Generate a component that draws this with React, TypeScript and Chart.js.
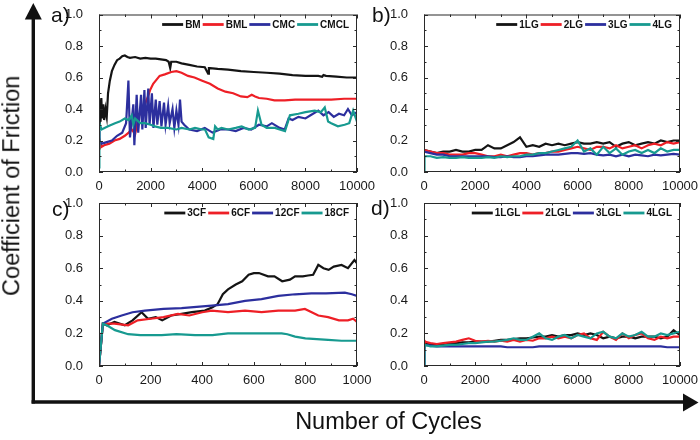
import React, { useEffect, useRef } from "react";
import { Chart, registerables } from "chart.js";

Chart.register(...registerables);

const SERIES_COLORS = ["#141414", "#ee1f26", "#2c2f9e", "#179a90"];
const FONT = '"Liberation Sans", Arial, Helvetica, sans-serif';

// ---------- Panel a ----------
const aNames = ["BM", "BML", "CMC", "CMCL"];
const aBMx = [0, 30, 60, 90, 120, 160, 200, 250, 300, 350, 420, 500, 600, 700, 800, 900, 1000, 1100, 1200, 1400, 1600, 1800, 2000, 2200, 2400, 2600, 2700, 2760, 2800, 3000, 3200, 3500, 3800, 4100, 4230, 4260, 4300, 4600, 5000, 5500, 6000, 6500, 7000, 7500, 8000, 8500, 8650, 8700, 8800, 9200, 9600, 10000];
const aBMy = [0.30, 0.46, 0.32, 0.47, 0.34, 0.43, 0.33, 0.40, 0.35, 0.50, 0.58, 0.64, 0.68, 0.71, 0.72, 0.735, 0.74, 0.73, 0.725, 0.73, 0.72, 0.725, 0.72, 0.72, 0.715, 0.71, 0.70, 0.66, 0.70, 0.70, 0.69, 0.68, 0.67, 0.665, 0.625, 0.66, 0.66, 0.655, 0.65, 0.64, 0.635, 0.63, 0.625, 0.615, 0.61, 0.61, 0.605, 0.615, 0.61, 0.605, 0.60, 0.60];
const aBMLx = [0, 30, 100, 200, 400, 600, 800, 1000, 1150, 1270, 1400, 1520, 1650, 1780, 1900, 1980, 2100, 2200, 2350, 2550, 2800, 3000, 3200, 3450, 3700, 4000, 4300, 4600, 4900, 5200, 5500, 5750, 5920, 6050, 6200, 6500, 6800, 7200, 7600, 8000, 8500, 9000, 9500, 10000];
const aBMLy = [0.15, 0.2, 0.16, 0.17, 0.18, 0.2, 0.21, 0.23, 0.25, 0.27, 0.24, 0.34, 0.4, 0.43, 0.48, 0.52, 0.56, 0.58, 0.61, 0.62, 0.635, 0.64, 0.63, 0.61, 0.6, 0.58, 0.56, 0.53, 0.51, 0.5, 0.48, 0.475, 0.49, 0.48, 0.47, 0.465, 0.455, 0.455, 0.46, 0.46, 0.46, 0.46, 0.465, 0.465];
const aCMCx = [0, 20, 100, 300, 500, 700, 900, 1050, 1140, 1200, 1330, 1370, 1460, 1520, 1630, 1680, 1760, 1810, 1910, 1960, 2050, 2110, 2200, 2260, 2350, 2420, 2520, 2580, 2680, 2740, 2850, 2920, 3000, 3080, 3140, 3200, 3300, 3500, 3800, 4100, 4400, 4700, 5000, 5300, 5600, 5900, 6200, 6500, 6700, 7000, 7200, 7350, 7500, 7730, 8000, 8200, 8500, 8700, 8900, 9100, 9300, 9500, 9650, 9800, 10000];
const aCMCy = [0.26, 0.2, 0.18, 0.19, 0.2, 0.23, 0.25, 0.31, 0.58, 0.22, 0.43, 0.17, 0.49, 0.25, 0.49, 0.27, 0.52, 0.28, 0.53, 0.3, 0.5, 0.28, 0.46, 0.3, 0.45, 0.29, 0.44, 0.3, 0.42, 0.31, 0.4, 0.28, 0.39, 0.3, 0.46, 0.32, 0.3, 0.27, 0.26, 0.28, 0.25, 0.27, 0.27, 0.26, 0.28, 0.27, 0.3, 0.29, 0.31, 0.28, 0.27, 0.34, 0.33, 0.35, 0.34, 0.36, 0.39, 0.36, 0.38, 0.35, 0.37, 0.36, 0.4, 0.36, 0.38];
const aCMCLx = [0, 15, 100, 350, 620, 800, 1000, 1150, 1270, 1330, 1400, 1600, 1780, 2000, 2170, 2400, 2680, 3000, 3200, 3500, 3720, 4000, 4110, 4250, 4430, 4500, 4600, 4750, 5000, 5300, 5530, 5800, 6050, 6160, 6300, 6500, 6820, 7000, 7210, 7400, 7730, 8000, 8360, 8600, 8750, 8880, 9000, 9260, 9520, 9700, 9850, 10000];
const aCMCLy = [0.03, 0.31, 0.27, 0.29, 0.31, 0.32, 0.34, 0.33, 0.36, 0.3, 0.34, 0.31, 0.31, 0.3, 0.29, 0.28, 0.28, 0.27, 0.28, 0.27, 0.28, 0.27, 0.27, 0.22, 0.21, 0.29, 0.27, 0.28, 0.27, 0.28, 0.29, 0.27, 0.28, 0.39, 0.3, 0.28, 0.28, 0.27, 0.26, 0.36, 0.37, 0.38, 0.39, 0.38, 0.41, 0.32, 0.31, 0.29, 0.3, 0.31, 0.39, 0.32];

// ---------- Panel b ----------
const bNames = ["1LG", "2LG", "3LG", "4LG"];
const bX = [0, 20, 250, 500, 750, 1000, 1250, 1500, 1750, 2000, 2250, 2500, 2750, 3000, 3250, 3500, 3750, 4000, 4250, 4500, 4750, 5000, 5250, 5500, 5750, 6000, 6250, 6500, 6750, 7000, 7250, 7500, 7750, 8000, 8250, 8500, 8750, 9000, 9250, 9500, 9750, 10000];
const b1LG = [0.13, 0.14, 0.13, 0.12, 0.13, 0.13, 0.14, 0.13, 0.13, 0.14, 0.14, 0.17, 0.15, 0.15, 0.17, 0.19, 0.22, 0.16, 0.17, 0.16, 0.18, 0.17, 0.18, 0.17, 0.18, 0.19, 0.18, 0.18, 0.19, 0.18, 0.19, 0.16, 0.18, 0.19, 0.17, 0.18, 0.19, 0.18, 0.20, 0.19, 0.20, 0.20];
const b2LG = [0.14, 0.14, 0.13, 0.12, 0.12, 0.11, 0.11, 0.11, 0.12, 0.12, 0.11, 0.1, 0.1, 0.11, 0.1, 0.11, 0.12, 0.12, 0.11, 0.12, 0.12, 0.13, 0.13, 0.14, 0.15, 0.16, 0.15, 0.14, 0.16, 0.16, 0.15, 0.17, 0.15, 0.16, 0.17, 0.15, 0.17, 0.18, 0.17, 0.19, 0.18, 0.19];
const b3LG = [0.13, 0.13, 0.12, 0.11, 0.11, 0.1, 0.1, 0.1, 0.1, 0.1, 0.1, 0.1, 0.095, 0.095, 0.1, 0.095, 0.095, 0.1, 0.1, 0.105, 0.11, 0.11, 0.11, 0.115, 0.12, 0.12, 0.115, 0.12, 0.11, 0.105, 0.11, 0.1, 0.11, 0.1, 0.11, 0.105, 0.1, 0.11, 0.105, 0.11, 0.115, 0.11];
const b4LG = [0.0, 0.1, 0.1, 0.09, 0.095, 0.09, 0.09, 0.095, 0.09, 0.09, 0.09, 0.095, 0.09, 0.1, 0.095, 0.1, 0.1, 0.11, 0.11, 0.12, 0.12, 0.13, 0.14, 0.15, 0.16, 0.2, 0.13, 0.15, 0.11, 0.16, 0.12, 0.15, 0.11, 0.13, 0.14, 0.12, 0.14, 0.12, 0.15, 0.13, 0.14, 0.14];

// ---------- Panel c ----------
const cNames = ["3CF", "6CF", "12CF", "18CF"];
const c3CFx = [0, 15, 30, 60, 100, 130, 165, 190, 220, 245, 280, 320, 360, 410, 440, 460, 480, 500, 530, 555, 580, 600, 620, 655, 680, 710, 740, 760, 790, 810, 830, 850, 870, 890, 910, 940, 965, 990, 1000];
const c3CFy = [0.0, 0.26, 0.25, 0.27, 0.25, 0.28, 0.33, 0.29, 0.3, 0.28, 0.31, 0.32, 0.33, 0.34, 0.36, 0.38, 0.44, 0.47, 0.5, 0.52, 0.56, 0.57, 0.57, 0.55, 0.55, 0.52, 0.53, 0.55, 0.55, 0.555, 0.56, 0.62, 0.6, 0.59, 0.61, 0.62, 0.6, 0.65, 0.63];
const c6CFx = [0, 15, 60, 113, 150, 200, 250, 306, 350, 400, 437, 500, 566, 630, 695, 760, 798, 850, 888, 930, 965, 985, 1000];
const c6CFy = [0.0, 0.26, 0.26, 0.25, 0.28, 0.29, 0.3, 0.32, 0.31, 0.33, 0.34, 0.33, 0.34, 0.33, 0.34, 0.34, 0.35, 0.31, 0.3, 0.28, 0.28, 0.29, 0.27];
const c12CFx = [0, 15, 50, 88, 130, 178, 250, 320, 437, 500, 566, 630, 695, 760, 823, 880, 953, 980, 1000];
const c12CFy = [0.0, 0.26, 0.29, 0.31, 0.33, 0.34, 0.35, 0.355, 0.37, 0.38, 0.4, 0.41, 0.43, 0.44, 0.445, 0.445, 0.45, 0.44, 0.43];
const c18CFx = [0, 15, 30, 62, 113, 160, 243, 300, 372, 440, 500, 560, 630, 708, 730, 760, 800, 888, 940, 1000];
const c18CFy = [0.0, 0.26, 0.25, 0.22, 0.195, 0.19, 0.19, 0.195, 0.19, 0.19, 0.2, 0.2, 0.2, 0.2, 0.195, 0.18, 0.17, 0.16, 0.155, 0.155];

// ---------- Panel d ----------
const dNames = ["1LGL", "2LGL", "3LGL", "4LGL"];
const dX = [0, 20, 250, 500, 750, 1000, 1250, 1500, 1750, 2000, 2250, 2500, 2750, 3000, 3250, 3500, 3750, 4000, 4250, 4500, 4750, 5000, 5250, 5500, 5750, 6000, 6250, 6500, 6750, 7000, 7250, 7500, 7750, 8000, 8250, 8500, 8750, 9000, 9250, 9500, 9750, 10000];
const d1LGL = [0.14, 0.14, 0.135, 0.13, 0.135, 0.14, 0.14, 0.145, 0.145, 0.15, 0.15, 0.15, 0.155, 0.16, 0.16, 0.165, 0.17, 0.17, 0.175, 0.18, 0.18, 0.19, 0.18, 0.19, 0.19, 0.2, 0.19, 0.2, 0.19, 0.17, 0.18, 0.17, 0.18, 0.18, 0.17, 0.18, 0.18, 0.18, 0.17, 0.18, 0.22, 0.19];
const d2LGL = [0.16, 0.15, 0.14, 0.135, 0.14, 0.145, 0.15, 0.16, 0.17, 0.155, 0.15, 0.155, 0.15, 0.155, 0.15, 0.16, 0.15, 0.16, 0.155, 0.17, 0.17, 0.18, 0.17, 0.18, 0.17, 0.19, 0.2, 0.17, 0.16, 0.21, 0.18, 0.16, 0.2, 0.17, 0.19, 0.2, 0.17, 0.16, 0.18, 0.17, 0.18, 0.18];
const d3LGL = [0.0, 0.13, 0.125, 0.12, 0.12, 0.12, 0.12, 0.12, 0.12, 0.12, 0.12, 0.12, 0.12, 0.12, 0.115, 0.115, 0.115, 0.115, 0.115, 0.12, 0.12, 0.12, 0.12, 0.12, 0.12, 0.12, 0.12, 0.12, 0.12, 0.12, 0.12, 0.12, 0.12, 0.12, 0.12, 0.12, 0.12, 0.12, 0.12, 0.115, 0.115, 0.115];
const d4LGL = [0.0, 0.13, 0.12, 0.12, 0.125, 0.13, 0.13, 0.135, 0.14, 0.14, 0.145, 0.15, 0.15, 0.155, 0.16, 0.17, 0.16, 0.16, 0.18, 0.2, 0.17, 0.16, 0.18, 0.19, 0.17, 0.19, 0.18, 0.17, 0.2, 0.21, 0.18, 0.17, 0.2, 0.18, 0.19, 0.21, 0.18, 0.18, 0.2, 0.19, 0.2, 0.21];

const Y_MIN = 0;
const Y_MAX = 1;
const Y_STEP = 0.2;

type Panel = {
  tag: string;
  area: [number, number, number, number]; // left, top, right, bottom (layout only)
  labelPos: [number, number];
  xMax: number;
  xStep: number;
  names: string[];
  xs: number[][];
  ys: number[][];
};

const PANELS: Panel[] = [
  { tag: "a)", area: [99, 7, 357, 172], labelPos: [51, 4], xMax: 10000, xStep: 2000, names: aNames, xs: [aBMx, aBMLx, aCMCx, aCMCLx], ys: [aBMy, aBMLy, aCMCy, aCMCLy] },
  { tag: "b)", area: [424, 7, 680, 172], labelPos: [372, 4], xMax: 10000, xStep: 2000, names: bNames, xs: [bX, bX, bX, bX], ys: [b1LG, b2LG, b3LG, b4LG] },
  { tag: "c)", area: [99, 203, 357, 366], labelPos: [52, 198], xMax: 1000, xStep: 200, names: cNames, xs: [c3CFx, c6CFx, c12CFx, c18CFx], ys: [c3CFy, c6CFy, c12CFy, c18CFy] },
  { tag: "d)", area: [424, 203, 680, 366], labelPos: [371, 197], xMax: 10000, xStep: 2000, names: dNames, xs: [dX, dX, dX, dX], ys: [d1LGL, d2LGL, d3LGL, d4LGL] },
];

const W = 700;
const H = 440;
const Y_AXIS_W = 40;
const X_AXIS_H = 22;

const framePlugin = {
  id: "originFrame",
  afterDatasetsDraw(chart: any) {
    const { ctx, chartArea } = chart;
    const { left, top, right, bottom } = chartArea;
    const sx = chart.scales.x;
    const sy = chart.scales.y;
    ctx.save();
    ctx.strokeStyle = "#2a2a2a";
    ctx.lineWidth = 1;
    ctx.strokeRect(left + 0.5, top + 0.5, right - left - 1, bottom - top - 1);
    ctx.beginPath();
    const xt = sx.ticks.map((t: any) => t.value);
    const xs = xt[1] - xt[0];
    xt.forEach((v: number, i: number) => {
      const p = Math.round(sx.getPixelForValue(v)) + 0.5;
      ctx.moveTo(p, bottom); ctx.lineTo(p, bottom - 4);
      ctx.moveTo(p, top); ctx.lineTo(p, top + 4);
      if (i < xt.length - 1) {
        const m = Math.round(sx.getPixelForValue(v + xs / 2)) + 0.5;
        ctx.moveTo(m, bottom); ctx.lineTo(m, bottom - 2.5);
        ctx.moveTo(m, top); ctx.lineTo(m, top + 2.5);
      }
    });
    const yt = sy.ticks.map((t: any) => t.value);
    const ys = yt[1] - yt[0];
    yt.forEach((v: number, i: number) => {
      const p = Math.round(sy.getPixelForValue(v)) + 0.5;
      ctx.moveTo(left, p); ctx.lineTo(left + 4, p);
      ctx.moveTo(right, p); ctx.lineTo(right - 4, p);
      if (i < yt.length - 1) {
        const m = Math.round(sy.getPixelForValue(v + ys / 2)) + 0.5;
        ctx.moveTo(left, m); ctx.lineTo(left + 2.5, m);
        ctx.moveTo(right, m); ctx.lineTo(right - 2.5, m);
      }
    });
    ctx.stroke();
    ctx.restore();
  },
};

const insideLegendPlugin = {
  id: "insideLegend",
  afterDraw(chart: any) {
    const { ctx, chartArea } = chart;
    const sets = chart.data.datasets;
    ctx.save();
    ctx.font = `bold 10px ${FONT}`;
    ctx.textBaseline = "middle";
    const lineLen = 21;
    const gapA = 2;
    const gapB = 2;
    const widths = sets.map((d: any) => ctx.measureText(d.label).width);
    const total = widths.reduce((s: number, w: number) => s + lineLen + gapA + w, 0) + gapB * (sets.length - 1);
    let x = chartArea.right - 8 - total;
    const y = chartArea.top + 10;
    sets.forEach((d: any, i: number) => {
      ctx.strokeStyle = d.borderColor;
      ctx.lineWidth = 2.8;
      ctx.beginPath();
      ctx.moveTo(x, y);
      ctx.lineTo(x + lineLen, y);
      ctx.stroke();
      x += lineLen + gapA;
      ctx.fillStyle = "#111";
      ctx.fillText(d.label, x, y + 0.5);
      x += widths[i] + gapB;
    });
    ctx.restore();
  },
};

function makeChart(canvas: HTMLCanvasElement, p: Panel) {
  const [L, T, R, B] = p.area;
  return new Chart(canvas, {
    type: "line",
    data: {
      datasets: p.names.map((name, i) => ({
        label: name,
        data: p.xs[i].map((x, j) => ({ x, y: p.ys[i][j] })),
        borderColor: SERIES_COLORS[i],
        backgroundColor: SERIES_COLORS[i],
        borderWidth: 2.2,
        pointRadius: 0,
        tension: 0,
        fill: false,
        order: p.names.length - 1 - i,
      })),
    },
    options: {
      responsive: false,
      animation: false,
      devicePixelRatio: 1,
      events: [],
      layout: {
        padding: { left: L - Y_AXIS_W, top: T, right: W - R, bottom: H - B - X_AXIS_H },
      },
      scales: {
        x: {
          type: "linear",
          min: 0,
          max: p.xMax,
          afterFit: (s: any) => { s.height = X_AXIS_H; },
          grid: { display: false },
          border: { display: false },
          ticks: {
            stepSize: p.xStep,
            autoSkip: false,
            maxRotation: 0,
            padding: 0,
            color: "#1a1a1a",
            font: { family: FONT, size: 13, lineHeight: 1 },
            callback: (v: any) => String(Math.round(Number(v))),
          },
        },
        y: {
          type: "linear",
          min: Y_MIN,
          max: Y_MAX,
          afterFit: (s: any) => { s.width = Y_AXIS_W; },
          grid: { display: false },
          border: { display: false },
          ticks: {
            stepSize: Y_STEP,
            padding: 8,
            color: "#1a1a1a",
            font: { family: FONT, size: 13, lineHeight: 1 },
            callback: (v: any) => Number(v).toFixed(1),
          },
        },
      },
      plugins: {
        legend: { display: false },
        tooltip: { enabled: false },
      },
    } as any,
    plugins: [framePlugin, insideLegendPlugin],
  });
}

export default function App() {
  const refs = useRef<(HTMLCanvasElement | null)[]>([]);

  useEffect(() => {
    const charts = PANELS.map((p, i) => makeChart(refs.current[i] as HTMLCanvasElement, p));
    return () => charts.forEach((c) => c.destroy());
  }, []);

  const canvasStyle: React.CSSProperties = { position: "absolute", left: 0, top: 0, width: W, height: H };

  return (
    <div style={{ position: "absolute", left: 0, top: 0, width: W, height: H, background: "#fff", overflow: "hidden", fontFamily: FONT, color: "#111" }}>
      <svg width={W} height={H} style={{ position: "absolute", left: 0, top: 0 }}>
        <line x1={33.3} y1={18} x2={33.3} y2={403.5} stroke="#111" strokeWidth={3.4} />
        <polygon points="33.3,3 24.8,19.5 41.8,19.5" fill="#111" />
        <line x1={31.6} y1={402} x2={684} y2={402} stroke="#111" strokeWidth={3.6} />
        <polygon points="698.5,402.5 683,393.5 683,411.5" fill="#111" />
      </svg>
      {PANELS.map((p, i) => (
        <canvas key={p.tag} ref={(el) => { refs.current[i] = el; }} width={W} height={H} style={canvasStyle} />
      ))}
      {PANELS.map((p) => (
        <div key={"lbl" + p.tag} style={{ position: "absolute", left: p.labelPos[0], top: p.labelPos[1], fontSize: 21, lineHeight: "21px", whiteSpace: "nowrap" }}>
          {p.tag}
        </div>
      ))}
      <div style={{ position: "absolute", left: 11.75 - 150, top: 186 - 11.75, width: 300, height: 23.5, lineHeight: "23.5px", fontSize: 23.5, textAlign: "center", transform: "rotate(-90deg)", transformOrigin: "center", whiteSpace: "nowrap" }}>
        Coefficient of Friction
      </div>
      <div style={{ position: "absolute", left: 388.5 - 150, top: 410, width: 300, height: 23.5, lineHeight: "23.5px", fontSize: 23.5, textAlign: "center", whiteSpace: "nowrap" }}>
        Number of Cycles
      </div>
    </div>
  );
}
